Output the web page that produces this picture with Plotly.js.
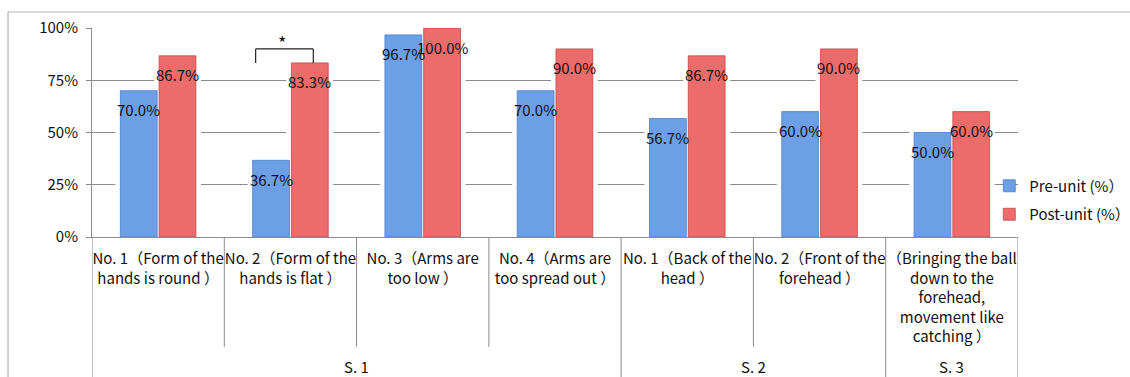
<!DOCTYPE html>
<html>
<head>
<meta charset="utf-8">
<script src="https://cdn.plot.ly/plotly-3.0.1.min.js"></script>
<style>html,body{margin:0;padding:0;background:#fff;}#chart{width:1130px;height:377px;}</style>
</head>
<body>
<div id="chart"></div>
<script>
const categories = [
  "No. 1（Form of the<br>hands is round ）",
  "No. 2（Form of the<br>hands is flat ）",
  "No. 3（Arms are<br>too low ）",
  "No. 4（Arms are<br>too spread out ）",
  "No. 1（Back of the<br>head ）",
  "No. 2（Front of the<br>forehead ）",
  "（Bringing the ball<br>down to the<br>forehead,<br>movement like<br>catching ）"
];
const groups = ["S. 1", "S. 1", "S. 1", "S. 1", "S. 2", "S. 2", "S. 3"];
const preUnit = [0.700, 0.367, 0.967, 0.700, 0.567, 0.600, 0.500];
const postUnit = [0.867, 0.833, 1.000, 0.900, 0.867, 0.900, 0.600];
const seriesNames = ["Pre-unit (%）", "Post-unit (%）"];
const yTickVals = [0, 0.25, 0.5, 0.75, 1];
const yTickText = ["0%", "25%", "50%", "75%", "100%"];

const FONT = "Noto Sans CJK JP, Noto Sans, sans-serif";
const BLUE = "#6c9fe6";
const RED = "#ec6c6c";
const AXIS = "#8c8c8c";

function glow(y, grp) {
  return {type: "bar", x: categories, y: y, offsetgroup: grp,
    marker: {color: "#ffffff", line: {color: "#ffffff", width: 10}},
    showlegend: false, hoverinfo: "skip"};
}
const traces = [
  glow(preUnit, "pre"),
  glow(postUnit, "post"),
  {type: "bar", name: seriesNames[0], x: categories, y: preUnit, offsetgroup: "pre", legendgroup: "a",
   marker: {color: BLUE, line: {color: "#4a80cc", width: 0.8}}},
  {type: "bar", name: seriesNames[1], x: categories, y: postUnit, offsetgroup: "post", legendgroup: "b",
   marker: {color: RED, line: {color: "#c84848", width: 0.8}}}
];

const n = categories.length;
const slot = (1 - 0.414) / 2;
const annotations = [];
preUnit.forEach((v, i) => annotations.push({x: i - slot / 2, y: v, xref: "x", yref: "y",
  text: (v * 100).toFixed(1) + "%", showarrow: false, yshift: -19, font: {size: 15, color: "#111", family: FONT}}));
postUnit.forEach((v, i) => annotations.push({x: i + slot / 2, y: v, xref: "x", yref: "y",
  text: (v * 100).toFixed(1) + "%", showarrow: false, yshift: -19, font: {size: 15, color: "#111", family: FONT}}));

// group labels
const uniqGroups = [...new Set(groups)];
uniqGroups.forEach(g => {
  const idx = groups.map((x, i) => x === g ? i : -1).filter(i => i >= 0);
  const mid = (idx[0] + idx[idx.length - 1]) / 2;
  annotations.push({x: mid, y: -0.622, xref: "x", yref: "paper", text: g, showarrow: false,
    yanchor: "middle", font: {size: 15, color: "#111", family: FONT}});
});

// significance marker
annotations.push({x: 0.94, y: 0.935, xref: "x", yref: "y", text: "*", showarrow: false,
  yanchor: "middle", font: {size: 18, color: "#111", family: FONT}});

const shapes = [];
const lineStyle = {color: AXIS, width: 1};
for (let i = 0; i <= n; i++) {
  const b = i - 0.5;
  const isGroupEdge = (i === 0 || i === n || groups[i] !== groups[i - 1]);
  shapes.push({type: "line", xref: "x", yref: "paper", x0: b, x1: b, y0: 0,
    y1: isGroupEdge ? -0.7 : -0.526, line: lineStyle});
}
// chart frame
shapes.push({type: "line", xref: "paper", yref: "paper", x0: -0.0907, x1: 1.2, y0: 1.0766, y1: 1.0766, line: {color: "#b4b4b4", width: 1.2}});
shapes.push({type: "line", xref: "paper", yref: "paper", x0: -0.0907, x1: -0.0907, y0: 1.0766, y1: -0.7, line: {color: "#b4b4b4", width: 1.2}});
// bracket
const bk = {color: "#222", width: 1.2};
shapes.push({type: "line", xref: "x", yref: "y", x0: 0.737, x1: 1.173, y0: 0.90, y1: 0.90, line: bk});
shapes.push({type: "line", xref: "x", yref: "y", x0: 0.737, x1: 0.737, y0: 0.90, y1: 0.833, line: bk});
shapes.push({type: "line", xref: "x", yref: "y", x0: 1.173, x1: 1.173, y0: 0.90, y1: 0.833, line: bk});

const layout = {
  width: 1130, height: 377,
  margin: {l: 92, r: 112, t: 28, b: 140, autoexpand: false},
  paper_bgcolor: "#ffffff", plot_bgcolor: "#ffffff",
  font: {family: FONT, size: 15, color: "#111"},
  barmode: "group", bargap: 0.414, bargroupgap: 0.05,
  xaxis: {type: "category", range: [-0.5, n - 0.5], tickangle: 0, showgrid: false,
    showline: true, linecolor: AXIS, linewidth: 1, ticks: "", ticklabelstandoff: 8,
    tickfont: {size: 15, family: FONT, color: "#111"}},
  yaxis: {range: [0, 1], tickvals: yTickVals, ticktext: yTickText, showgrid: true, gridcolor: AXIS, gridwidth: 1,
    showline: true, linecolor: AXIS, linewidth: 1, ticks: "outside", ticklen: 5, tickcolor: AXIS,
    ticklabelstandoff: 5, zeroline: false, tickfont: {size: 15, family: FONT, color: "#111"}},
  legend: {x: 0.969, xanchor: "left", y: 0.177, yanchor: "middle", bgcolor: "rgba(0,0,0,0)",
    tracegroupgap: 6, font: {size: 15, family: FONT, color: "#111"}},
  annotations: annotations,
  shapes: shapes,
  showlegend: true
};

Plotly.newPlot("chart", traces, layout, {displayModeBar: false, staticPlot: true});
</script>
</body>
</html>
